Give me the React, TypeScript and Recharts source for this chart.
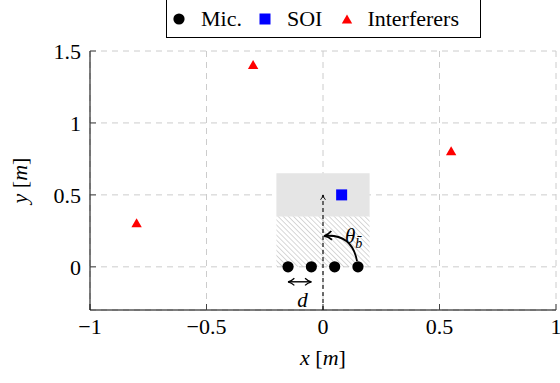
import React from 'react';
import {
  ScatterChart,
  Scatter,
  XAxis,
  YAxis,
  CartesianGrid,
  ReferenceArea,
  Legend,
} from 'recharts';

// ---- data ----
const micX = [-0.15, -0.05, 0.05, 0.15];
const micY = [0, 0, 0, 0];
const soiX = [0.08];
const soiY = [0.5];
const intX = [-0.8, -0.3, 0.55];
const intY = [0.3, 1.4, 0.8];
const xTicks = [-1, -0.5, 0, 0.5, 1];
const yTicks = [0, 0.5, 1, 1.5];
const xDomain = [-1, 1];
const yDomain = [-0.3, 1.5];
const seriesNames = ['Mic.', 'SOI', 'Interferers'];
const seriesColors = ['#000000', '#0000ff', '#ff0000'];

// annotation geometry (data space)
const regionX = [-0.2, 0.2];
const greyY = [0.35, 0.65];
const hatchY = [0, 0.35];
const upArrowX = [0, 0];
const upArrowY = [-0.3, 0.5];
const arcX = [0.146, 0.124, 0.009];
const arcY = [0.04, 0.23, 0.215];
const dArrowX = [-0.15, -0.05];
const dArrowY = [-0.104, -0.104];
const thetaPos = { x: 0.094, y: 0.167 };
const dPos = { x: -0.088, y: -0.278 };

const zip = (xs: number[], ys: number[]) => xs.map((x, i) => ({ x, y: ys[i] }));
const micData = zip(micX, micY);
const soiData = zip(soiX, soiY);
const intData = zip(intX, intY);

const FONT = '"Liberation Serif", "Times New Roman", serif';
const fontCss = { fontFamily: FONT };
const minus = (v: number) => String(v).replace('-', '\u2212');

const Empty = () => <g />;

const MicShape = (p: any) => <circle cx={p.cx} cy={p.cy} r={5.6} fill="#000" />;
const SoiShape = (p: any) => (
  <rect x={p.cx - 5.5} y={p.cy - 5.5} width={11} height={11} fill="#0000ff" />
);
const IntShape = (p: any) => (
  <polygon
    points={`${p.cx},${p.cy - 5.5} ${p.cx + 5.2},${p.cy + 3.5} ${p.cx - 5.2},${p.cy + 3.5}`}
    fill="#ff0000"
  />
);

const straightLine = (dashed: boolean, marker: string, double: boolean, sw: number) => (props: any) => {
  const pts = props.points || [];
  if (pts.length < 2) return <g />;
  const a = pts[0];
  const b = pts[pts.length - 1];
  return (
    <path
      d={`M${a.x},${a.y} L${b.x},${b.y}`}
      fill="none"
      stroke="#000"
      strokeWidth={sw}
      strokeDasharray={dashed ? '4 3' : undefined}
      markerEnd={`url(#${marker})`}
      markerStart={double ? `url(#${marker})` : undefined}
    />
  );
};

const curveLine = (props: any) => {
  const pts = props.points || [];
  if (pts.length < 3) return <g />;
  const [a, c, b] = pts;
  return (
    <path
      d={`M${a.x},${a.y} Q${c.x},${c.y} ${b.x},${b.y}`}
      fill="none"
      stroke="#000"
      strokeWidth={1.8}
      markerEnd="url(#arrowBig)"
    />
  );
};

const ThetaShape = (p: any) => (
  <text x={p.cx} y={p.cy} style={fontCss} fontSize={21} fontStyle="italic" fill="#000">
    θ
    <tspan fontSize={14} dy={5}>
      b̄
    </tspan>
  </text>
);

const DShape = (p: any) => (
  <text x={p.cx} y={p.cy} style={fontCss} fontSize={21} fontStyle="italic" fill="#000" textAnchor="middle">
    d
  </text>
);

const XTick = (p: any) => (
  <text x={p.x} y={p.y} dy="0.71em" textAnchor="middle" style={fontCss} fontSize={22} fill="#000">
    {minus(p.payload.value)}
  </text>
);

const YTick = (p: any) => (
  <text x={p.x} y={p.y} dy="0.355em" textAnchor="end" style={fontCss} fontSize={22} fill="#000">
    {minus(p.payload.value)}
  </text>
);

const LegendBox = () => {
  const icons = [
    <circle cx={6} cy={6} r={5.6} fill={seriesColors[0]} />,
    <rect x={0.5} y={0.5} width={11} height={11} fill={seriesColors[1]} />,
    <polygon points="6,1.5 11.2,10.5 0.8,10.5" fill={seriesColors[2]} />,
  ];
  return (
    <div
      style={{
        width: 315,
        height: 40,
        border: '1px solid #000',
        boxSizing: 'border-box',
        display: 'flex',
        alignItems: 'center',
        paddingLeft: 6,
        paddingTop: 2,
        fontFamily: FONT,
        fontSize: 22,
        color: '#000',
        background: '#fff',
      }}
    >
      {seriesNames.map((n, i) => (
        <div key={n} style={{ display: 'flex', alignItems: 'center', marginRight: i === 1 ? 19 : 17 }}>
          <svg width={12} height={12} style={{ display: 'block' }}>
            {icons[i]}
          </svg>
          <span style={{ marginLeft: i === 2 ? 14 : 16, lineHeight: '24px' }}>{n}</span>
        </div>
      ))}
    </div>
  );
};

const xLabel = (props: any) => {
  const vb = props.viewBox || {};
  return (
    <text x={vb.x + vb.width / 2} y={vb.y + 55} style={fontCss} fontSize={22} textAnchor="middle" fill="#000">
      <tspan fontStyle="italic">x</tspan>
      <tspan> [</tspan>
      <tspan fontStyle="italic">m</tspan>
      <tspan>]</tspan>
    </text>
  );
};

const yLabel = (props: any) => {
  const vb = props.viewBox || {};
  const cx = 27;
  const cy = vb.y + vb.height / 2;
  return (
    <text
      x={cx}
      y={cy}
      transform={`rotate(-90 ${cx} ${cy})`}
      style={fontCss}
      fontSize={22}
      textAnchor="middle"
      fill="#000"
    >
      <tspan fontStyle="italic">y</tspan>
      <tspan> [</tspan>
      <tspan fontStyle="italic">m</tspan>
      <tspan>]</tspan>
    </text>
  );
};

export default function App() {
  return (
    <div style={{ position: 'absolute', left: 0, top: 0, width: 560, height: 383, background: '#fff', fontFamily: FONT }}>
      <svg width={0} height={0} style={{ position: 'absolute' }}>
        <defs>
          <pattern
            id="hatch"
            width={3.6}
            height={3.6}
            patternUnits="userSpaceOnUse"
            patternTransform="rotate(-45)"
          >
            <line x1={0} y1={0} x2={0} y2={3.6} stroke="#a8a8a8" strokeWidth={0.9} />
          </pattern>
          <marker
            id="arrowSmall"
            viewBox="0 0 10 10"
            refX={9}
            refY={5}
            markerWidth={7}
            markerHeight={7}
            markerUnits="userSpaceOnUse"
            orient="auto-start-reverse"
          >
            <path d="M2,1.5 Q5,4 9,5 Q5,6 2,8.5" fill="none" stroke="#000" strokeWidth={1.3} />
          </marker>
          <marker
            id="arrowMid"
            viewBox="0 0 10 10"
            refX={9}
            refY={5}
            markerWidth={9}
            markerHeight={9}
            markerUnits="userSpaceOnUse"
            orient="auto-start-reverse"
          >
            <path d="M2,1 Q5,4 9,5 Q5,6 2,9" fill="none" stroke="#000" strokeWidth={1.4} />
          </marker>
          <marker
            id="arrowBig"
            viewBox="0 0 10 10"
            refX={8}
            refY={5}
            markerWidth={11}
            markerHeight={11}
            markerUnits="userSpaceOnUse"
            orient="auto"
          >
            <path d="M2,1 Q5,4 9,5 Q5,6 2,9" fill="none" stroke="#000" strokeWidth={1.6} />
          </marker>
        </defs>
      </svg>
      <ScatterChart width={560} height={383} margin={{ top: 51, right: 4, bottom: 0, left: 0 }} style={fontCss}>
        <CartesianGrid stroke="#cccccc" strokeDasharray="6 5" strokeWidth={1} />
        <XAxis
          type="number"
          dataKey="x"
          domain={xDomain}
          ticks={xTicks}
          allowDataOverflow
          interval={0}
          height={73}
          tick={XTick}
          tickSize={-6}
          tickMargin={14}
          tickLine={{ stroke: '#444' }}
          axisLine={{ stroke: '#000' }}
          label={xLabel}
        />
        <XAxis
          xAxisId="top"
          orientation="top"
          type="number"
          dataKey="x"
          domain={xDomain}
          ticks={xTicks}
          allowDataOverflow
          interval={0}
          height={0}
          tick={Empty}
          tickSize={-6}
          tickLine={{ stroke: '#444' }}
          axisLine={{ stroke: '#000' }}
        />
        <YAxis
          type="number"
          dataKey="y"
          domain={yDomain}
          ticks={yTicks}
          allowDataOverflow
          interval={0}
          width={90}
          tick={YTick}
          tickSize={-6}
          tickMargin={15}
          tickLine={{ stroke: '#444' }}
          axisLine={{ stroke: '#000' }}
          label={yLabel}
        />
        <YAxis
          yAxisId="right"
          orientation="right"
          type="number"
          dataKey="y"
          domain={yDomain}
          ticks={yTicks}
          allowDataOverflow
          interval={0}
          width={0}
          tick={Empty}
          tickSize={-6}
          tickLine={{ stroke: '#444' }}
          axisLine={{ stroke: '#000' }}
        />
        <ReferenceArea
          x1={regionX[0]}
          x2={regionX[1]}
          y1={greyY[0]}
          y2={greyY[1]}
          fill="#e5e5e5"
          fillOpacity={1}
          stroke="none"
        />
        <ReferenceArea
          x1={regionX[0]}
          x2={regionX[1]}
          y1={hatchY[0]}
          y2={hatchY[1]}
          fill="url(#hatch)"
          fillOpacity={1}
          stroke="none"
        />
        <Scatter
          name="upArrow"
          data={zip(upArrowX, upArrowY)}
          shape={Empty}
          line={straightLine(true, 'arrowSmall', false, 1.1)}
          legendType="none"
          isAnimationActive={false}
        />
        <Scatter
          name="dArrow"
          data={zip(dArrowX, dArrowY)}
          shape={Empty}
          line={straightLine(false, 'arrowMid', true, 1.4)}
          legendType="none"
          isAnimationActive={false}
        />
        <Scatter
          name="arc"
          data={zip(arcX, arcY)}
          shape={Empty}
          line={curveLine}
          legendType="none"
          isAnimationActive={false}
        />
        <Scatter name="theta" data={[thetaPos]} shape={ThetaShape} legendType="none" isAnimationActive={false} />
        <Scatter name="dlabel" data={[dPos]} shape={DShape} legendType="none" isAnimationActive={false} />
        <Scatter name={seriesNames[0]} data={micData} shape={MicShape} fill={seriesColors[0]} isAnimationActive={false} />
        <Scatter name={seriesNames[1]} data={soiData} shape={SoiShape} fill={seriesColors[1]} isAnimationActive={false} />
        <Scatter name={seriesNames[2]} data={intData} shape={IntShape} fill={seriesColors[2]} isAnimationActive={false} />
        <Legend
          layout="horizontal"
          verticalAlign="middle"
          align="center"
          content={LegendBox}
          wrapperStyle={{ top: -2, left: 166, width: 315, height: 40 }}
        />
      </ScatterChart>
    </div>
  );
}
